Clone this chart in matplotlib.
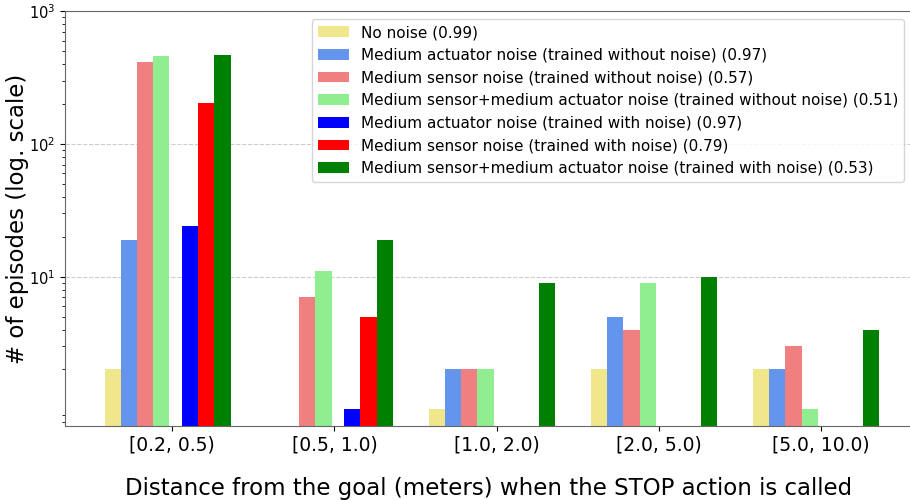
import matplotlib
matplotlib.use("Agg")
import numpy as np
import matplotlib.pyplot as plt

# distance bins (x categories)
bins = ["[0.2, 0.5)", "[0.5, 1.0)", "[1.0, 2.0)", "[2.0, 5.0)", "[5.0, 10.0)"]

# episode counts per bin, 0 = no bar
no_noise = [2, 0, 1, 2, 2]
act_wo = [19, 0, 2, 5, 2]
sens_wo = [415, 7, 2, 4, 3]
both_wo = [460, 11, 2, 9, 1]
act_w = [24, 1, 0, 0, 0]
sens_w = [204, 5, 0, 0, 0]
both_w = [469, 19, 9, 10, 4]

labels = [
    "No noise (0.99)",
    "Medium actuator noise (trained without noise) (0.97)",
    "Medium sensor noise (trained without noise) (0.57)",
    "Medium sensor+medium actuator noise (trained without noise) (0.51)",
    "Medium actuator noise (trained with noise) (0.97)",
    "Medium sensor noise (trained with noise) (0.79)",
    "Medium sensor+medium actuator noise (trained with noise) (0.53)",
]
colors = ["khaki", "cornflowerblue", "lightcoral", "lightgreen", "blue", "red", "green"]
series = [no_noise, act_wo, sens_wo, both_wo, act_w, sens_w, both_w]
offsets = [-0.368, -0.268, -0.168, -0.068, 0.11, 0.21, 0.31]
width = 0.1

fig = plt.figure(figsize=(9.1, 5.0), dpi=100)
ax = fig.add_axes([65 / 910, 74 / 500, 847 / 910, 414.7 / 500])

x = np.arange(len(bins))
for vals, lab, col, off in zip(series, labels, colors, offsets):
    v = np.array(vals, dtype=float)
    v[v == 0] = np.nan
    ax.bar(x + off, v, width, color=col, label=lab)

ax.set_yscale("log")
ax.set_yticks([10, 100, 1000])
ax.set_ylim(0.75, 1000)
ax.set_xlim(-0.662, 4.563)
ax.set_xticks(x)
ax.set_xticklabels(bins, fontsize=13.5)
ax.tick_params(axis="y", labelsize=10.5)
ax.yaxis.grid(True, which="major", linestyle="--", color="#cccccc", linewidth=0.8)
ax.set_axisbelow(True)
for s in ax.spines.values():
    s.set_color("#666666")

ax.set_xlabel("Distance from the goal (meters) when the STOP action is called", fontsize=16.5, labelpad=16)
ax.set_ylabel("# of episodes (log. scale)", fontsize=16.5)
ax.yaxis.set_label_coords(-0.043, 0.5)
ax.legend(loc="upper right", fontsize=11)

fig.savefig("out.png", dpi=100)
